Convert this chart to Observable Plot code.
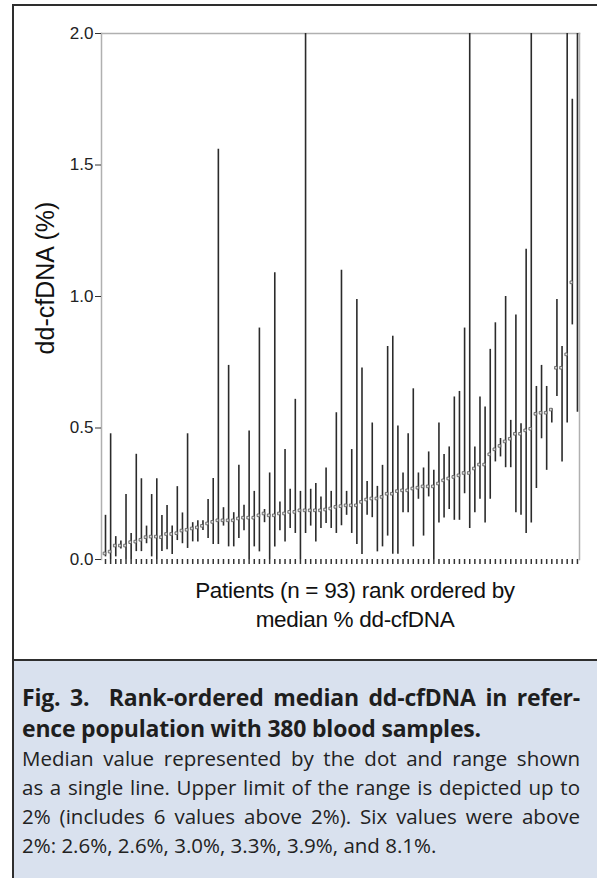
<!DOCTYPE html>
<html>
<head>
<meta charset="utf-8">
<script src="https://cdn.jsdelivr.net/npm/d3@7"></script>
<script src="https://cdn.jsdelivr.net/npm/@observablehq/plot@0.6"></script>
<style>
  html, body { margin: 0; padding: 0; background: #fff; }
  body { width: 597px; height: 878px; overflow: hidden; position: relative; }
  #fig { position: absolute; left: 12px; top: 4px; width: 585px; height: 874px;
         border-left: 2px solid #2e2e2e; border-top: 2px solid #2e2e2e; box-sizing: border-box; }
  #chart { position: relative; height: 653px; }
  #chart svg { position: absolute; left: 0; top: 0; }
  #xlabel { position: absolute; left: 91px; width: 500px; top: 570px; text-align: center;
            font-family: "Liberation Sans", Arial, sans-serif; font-size: 22.5px; line-height: 29px;
            color: #111; letter-spacing: -0.3px; }
  #ylabel { position: absolute; left: 31px; top: 272px; transform: translate(-50%, -50%) rotate(-90deg);
            white-space: nowrap; font-family: "Liberation Sans", Arial, sans-serif; font-size: 25px; color: #111; }
  #caption { border-top: 2px solid #2e2e2e; background: #d9e1ee; height: 219px; box-sizing: border-box;
             padding: 21px 17px 0 8px; font-family: "Open Sans", sans-serif; color: #222; }
  #caption .t { font-weight: 700; font-size: 23px; line-height: 31px; letter-spacing: -0.2px; white-space: nowrap; color: #1e1e1e; }
  #caption .b { font-size: 20.5px; line-height: 29px; white-space: nowrap; }
  .j { text-align: justify; text-align-last: justify; }
</style>
</head>
<body>
<div id="fig">
  <div id="chart">
    <div id="ylabel">dd-cfDNA (%)</div>
    <div id="xlabel">Patients (n = 93) rank ordered by<br>median % dd-cfDNA</div>
  </div>
  <div id="caption">
    <div class="t j">Fig. 3.&nbsp; Rank-ordered median dd-cfDNA in refer-</div>
    <div class="t">ence population with 380 blood samples.</div>
    <div class="b j">Median value represented by the dot and range shown</div>
    <div class="b j">as a single line. Upper limit of the range is depicted up to</div>
    <div class="b j">2% (includes 6 values above 2%). Six values were above</div>
    <div class="b">2%: 2.6%, 2.6%, 3.0%, 3.3%, 3.9%, and 8.1%.</div>
  </div>
</div>
<script>
// Patient rank (1..93), ordered by median % dd-cfDNA
const patients = d3.range(1, 94);
const medians = [
  0.023, 0.03, 0.053, 0.053, 0.053, 0.066, 0.068, 0.075, 0.085, 0.087,
  0.087, 0.085, 0.097, 0.097, 0.10, 0.11, 0.113, 0.118, 0.122, 0.128,
  0.137, 0.143, 0.149, 0.149, 0.149, 0.149, 0.156, 0.159, 0.159, 0.159,
  0.168, 0.175, 0.168, 0.168, 0.175, 0.175, 0.181, 0.181, 0.187, 0.187,
  0.187, 0.187, 0.187, 0.19, 0.194, 0.20, 0.203, 0.206, 0.206, 0.206,
  0.219, 0.228, 0.232, 0.232, 0.238, 0.25, 0.25, 0.26, 0.263, 0.263,
  0.27, 0.273, 0.278, 0.278, 0.278, 0.289, 0.301, 0.308, 0.314, 0.32,
  0.329, 0.329, 0.346, 0.361, 0.361, 0.40, 0.419, 0.432, 0.449, 0.459,
  0.478, 0.478, 0.491, 0.497, 0.554, 0.558, 0.558, 0.57, 0.729, 0.729,
  0.78, 1.054, 2.6
];
const lows = [
  0.01, 0.0, 0.01, 0.04, 0.0, 0.0, 0.03, 0.03, 0.06, 0.01,
  0.0, 0.03, 0.037, 0.019, 0.072, 0.06, 0.042, 0.067, 0.067, 0.11,
  0.08, 0.057, 0.057, 0.127, 0.048, 0.048, 0.08, 0.109, 0.0, 0.048,
  0.029, 0.14, 0.0, 0.048, 0.109, 0.067, 0.118, 0.099, 0.0, 0.099,
  0.127, 0.067, 0.118, 0.137, 0.118, 0.099, 0.128, 0.168, 0.099, 0.057,
  0.019, 0.168, 0.159, 0.029, 0.048, 0.089, 0.02, 0.02, 0.178, 0.178,
  0.048, 0.229, 0.089, 0.238, 0.0, 0.139, 0.158, 0.19, 0.149, 0.149,
  0.25, 0.118, 0.178, 0.229, 0.139, 0.229, 0.371, 0.39, 0.349, 0.349,
  0.178, 0.168, 0.099, 0.139, 0.27, 0.459, 0.339, 0.519, 0.62, 0.371,
  0.519, 0.892, 0.56
];
const highs = [
  0.168, 0.478, 0.087, 0.07, 0.247, 0.099, 0.40, 0.307, 0.127, 0.247,
  0.307, 0.167, 0.205, 0.127, 0.277, 0.177, 0.478, 0.14, 0.147, 0.147,
  0.228, 0.308, 1.56, 0.197, 0.738, 0.178, 0.358, 0.206, 0.489, 0.259,
  0.88, 0.19, 0.329, 1.09, 0.219, 0.418, 0.267, 0.609, 0.259, 2.6,
  0.267, 0.289, 0.238, 0.348, 0.259, 0.558, 1.10, 0.259, 0.418, 0.989,
  0.728, 0.297, 0.519, 0.278, 0.358, 0.81, 0.849, 0.508, 0.329, 0.478,
  0.649, 0.329, 0.348, 0.409, 0.339, 0.519, 0.399, 0.428, 0.618, 0.639,
  0.88, 3.0, 0.428, 0.618, 0.58, 0.799, 0.90, 0.46, 1.0, 0.529,
  0.93, 0.516, 1.18, 3.3, 0.658, 0.738, 0.658, 0.573, 0.989, 0.81,
  3.9, 1.75, 8.1
];
const yTicks = [0, 0.5, 1.0, 1.5, 2.0];

const data = patients.map((p, i) => ({p, med: medians[i], lo: lows[i], hi: highs[i]}));

const chart = Plot.plot({
  width: 583,
  height: 570,
  marginLeft: 87,
  marginRight: 18,
  marginTop: 27,
  marginBottom: 17,
  x: {domain: [0.22, 93.4]},
  y: {domain: [0, 2]},
  style: {fontFamily: "'Liberation Sans', Arial, sans-serif", fontSize: "17px", color: "#222", background: "transparent", overflow: "visible"},
  marks: [
    Plot.frame({anchor: "top", stroke: "#b0b0b0", strokeWidth: 1.5}),
    Plot.frame({anchor: "left", stroke: "#b0b0b0", strokeWidth: 1.5}),
    Plot.frame({anchor: "right", stroke: "#b0b0b0", strokeWidth: 1.5}),
    Plot.ruleX(data, {x: "p", y1: "lo", y2: "hi", stroke: "#2b2b2b", strokeWidth: 1.6, clip: true}),
    Plot.dot(data, {x: "p", y: "med", symbol: "square", r: 1.5, stroke: "#555", fill: "#ddd", strokeWidth: 0.8, dx: -1, clip: true}),
    Plot.axisX({ticks: patients, tickSize: 5, tickFormat: () => "", label: null, stroke: "#333", strokeWidth: 1.5}),
    Plot.axisY({ticks: yTicks, tickFormat: d3.format(".1f"), tickSize: 6, tickPadding: 2, label: null, fontSize: 17, stroke: "#333"})
  ]
});
document.getElementById("chart").prepend(chart);
</script>
</body>
</html>
